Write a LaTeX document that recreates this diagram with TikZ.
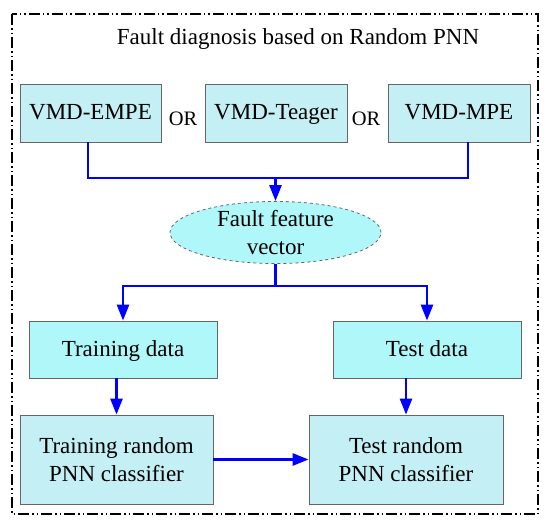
\documentclass[tikz,border=0pt]{standalone}
\usepackage{fontspec}
\setmainfont{Liberation Serif}
\usetikzlibrary{arrows.meta,shapes.geometric,calc}
\definecolor{cyanA}{HTML}{C4EFF4}
\definecolor{cyanB}{HTML}{B0F7F9}
\definecolor{flowblue}{HTML}{0000FF}
\tikzset{
  box/.style={draw=gray!80!black, line width=0.8pt, fill=cyanA, rectangle, inner sep=0pt, align=center, font=\fontsize{23}{27.5}\selectfont},
  onebox/.style={box, text height=17pt, text depth=4pt},
  ellbox/.style={draw=gray!80!black, dashed, line width=0.8pt, fill=cyanB, ellipse, inner sep=0pt, align=center, font=\fontsize{23}{27.5}\selectfont},
  flow/.style={draw=flowblue, line width=2.6pt},
  flowarr/.style={flow, -{Triangle[length=16pt,width=12pt]}},
  frame/.style={draw=black, line width=1.4pt, dash pattern=on 11pt off 3pt on 1.5pt off 3pt on 1.5pt off 3pt},
  ortext/.style={font=\fontsize{20.5}{24}\selectfont, inner sep=0pt}
}
\begin{document}
\begin{tikzpicture}[x=1pt,y=-1pt]
\useasboundingbox (0,0) rectangle (550,525);
\draw[frame] (12,14) rectangle (538,514);
\node[font=\fontsize{23}{27}\selectfont, inner sep=0pt, anchor=base] (title) at (298,44) {Fault diagnosis based on Random PNN};

\node[onebox, minimum width=141pt, minimum height=58pt] (e) at (90.5,113) {VMD-EMPE};
\node[onebox, minimum width=142pt, minimum height=58pt] (t) at (276,113) {VMD-Teager};
\node[onebox, minimum width=142pt, minimum height=58pt] (m) at (459,113) {VMD-MPE};
\node[ortext, anchor=base] (or1) at (183,125) {OR};
\node[ortext, anchor=base] (or2) at (366,125) {OR};

\node[ellbox, minimum width=211pt, minimum height=61pt] (f) at (275.5,232.5) {Fault feature\\vector};

\node[onebox, fill=cyanB, minimum width=188pt, minimum height=57pt] (trd) at (123,349.5) {Training data};
\node[onebox, fill=cyanB, minimum width=188pt, minimum height=57pt] (ted) at (427,349.5) {Test data};

\node[box, minimum width=193pt, minimum height=89pt] (trc) at (116.5,459.5) {Training random\\PNN classifier};
\node[box, minimum width=194pt, minimum height=89pt] (tec) at (406,459.5) {Test random\\PNN classifier};

\coordinate (j1) at (275.5,178);
\coordinate (j2) at (275.5,286);

\draw[flow] ($(e.south)+(-2.5,0)$) |- (j1) -| ($(m.south)+(9,0)$);
\draw[flowarr] (j1) -- (f.north);
\draw[flow] (f.south) -- (j2);
\draw[flowarr] (j2) -| (trd.north);
\draw[flowarr] (j2) -| (ted.north);
\draw[flowarr] (trd.south -| trc.north) -- (trc.north);
\draw[flowarr] (ted.south -| tec.north) -- (tec.north);
\draw[flowarr] (trc.east) -- (tec.west);
\end{tikzpicture}
\end{document}
